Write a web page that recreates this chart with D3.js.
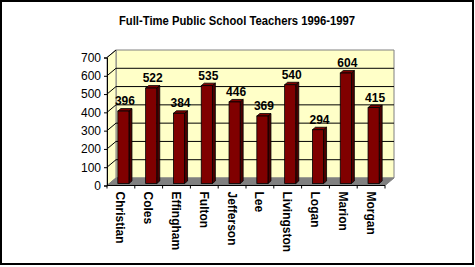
<!DOCTYPE html>
<html>
<head>
<meta charset="utf-8">
<script src="https://cdn.jsdelivr.net/npm/d3@7"></script>
<style>
  body { margin: 0; background: #fff; }
  svg { display: block; }
</style>
</head>
<body>
<div class="visualization"></div>
<script>
const counties = ['Christian', 'Coles', 'Effingham', 'Fulton', 'Jefferson', 'Lee', 'Livingston', 'Logan', 'Marion', 'Morgan'];
const teachers = [396, 522, 384, 535, 446, 369, 540, 294, 604, 415];
const yTicks = [0, 100, 200, 300, 400, 500, 600, 700];
const title = 'Full-Time Public School Teachers 1996-1997';

const width = 475, height = 267;
const font = 'Liberation Sans, Arial, Helvetica, sans-serif';
// 3d depth of the plot box
const depth = {dx: 9, dy: -7.5};
// bar offset from front plane and its own depth
const barOff = {dx: 2.5, dy: -2};
const barDepth = {dx: 3, dy: -2.5};

const svg = d3.select('.visualization').append('svg')
    .attr('width', width)
    .attr('height', height);

svg.append('rect')
    .attr('x', 1).attr('y', 1)
    .attr('width', width - 3).attr('height', height - 4)
    .attr('fill', '#fff')
    .attr('stroke', '#000')
    .attr('stroke-width', 2);

svg.append('text')
    .attr('x', 237).attr('y', 25)
    .attr('text-anchor', 'middle')
    .attr('textLength', 236)
    .attr('lengthAdjust', 'spacingAndGlyphs')
    .style('font-family', font)
    .style('font-weight', 'bold')
    .style('font-size', '12.5px')
    .text(title);

const x = d3.scaleBand().domain(counties).range([107, 385]);
const y = d3.scaleLinear().domain([0, 700]).range([185.5, 57.5]);

const x0 = x.range()[0], x1 = x.range()[1];
const yTop = y(700), yBot = y(0);

const pts = p => p.map(d => d.join(',')).join(' ');

// back wall
svg.append('polygon')
    .attr('points', pts([[x0 + depth.dx, yTop + depth.dy], [x1 + depth.dx, yTop + depth.dy],
        [x1 + depth.dx, yBot + depth.dy], [x0 + depth.dx, yBot + depth.dy]]))
    .attr('fill', '#ffffc8')
    .attr('stroke', '#808080');
// side wall
svg.append('polygon')
    .attr('points', pts([[x0, yTop], [x0 + depth.dx, yTop + depth.dy],
        [x0 + depth.dx, yBot + depth.dy], [x0, yBot]]))
    .attr('fill', '#ffffc8')
    .attr('stroke', '#808080');
// floor
svg.append('polygon')
    .attr('points', pts([[x0, yBot], [x0 + depth.dx, yBot + depth.dy],
        [x1 + depth.dx, yBot + depth.dy], [x1, yBot]]))
    .attr('fill', '#808080')
    .attr('stroke', '#808080');

// gridlines on back and side walls
const grid = svg.append('g').attr('class', 'grid');
yTicks.filter(v => v > 0 && v < 700).forEach(v => {
    grid.append('line')
        .attr('x1', x0 + depth.dx).attr('x2', x1 + depth.dx)
        .attr('y1', y(v) + depth.dy).attr('y2', y(v) + depth.dy)
        .attr('stroke', '#000');
});
yTicks.filter(v => v > 0).forEach(v => {
    grid.append('line')
        .attr('x1', x0).attr('x2', x0 + depth.dx)
        .attr('y1', y(v)).attr('y2', y(v) + depth.dy)
        .attr('stroke', '#000');
});

// bars
const bw = x.bandwidth() * 0.4;
const bars = svg.append('g').attr('class', 'bars');
counties.forEach((c, i) => {
    const v = teachers[i];
    const bx = x(c) + (x.bandwidth() - bw) / 2 + barOff.dx;
    const by0 = y(0) + barOff.dy;
    const by1 = y(v) + barOff.dy;
    const g = bars.append('g');
    // side face
    g.append('polygon')
        .attr('points', pts([[bx + bw, by1], [bx + bw + barDepth.dx, by1 + barDepth.dy],
            [bx + bw + barDepth.dx, by0 + barDepth.dy], [bx + bw, by0]]))
        .attr('fill', '#4a0000').attr('stroke', '#000').attr('stroke-width', 0.8);
    // top face
    g.append('polygon')
        .attr('points', pts([[bx, by1], [bx + barDepth.dx, by1 + barDepth.dy],
            [bx + bw + barDepth.dx, by1 + barDepth.dy], [bx + bw, by1]]))
        .attr('fill', '#800000').attr('stroke', '#000').attr('stroke-width', 0.8);
    // front face
    g.append('rect')
        .attr('x', bx).attr('y', by1)
        .attr('width', bw).attr('height', by0 - by1)
        .attr('fill', '#800000').attr('stroke', '#000').attr('stroke-width', 0.8);
    // value label
    g.append('text')
        .attr('x', bx + (bw + barDepth.dx) / 2)
        .attr('y', by1 + barDepth.dy - 3.5)
        .attr('text-anchor', 'middle')
        .style('font-family', font)
        .style('font-weight', 'bold')
        .style('font-size', '12px')
        .text(v);
});

// y axis
const yAxis = svg.append('g')
    .attr('transform', `translate(${x0},0)`)
    .call(d3.axisLeft(y).tickValues(yTicks).tickSize(3).tickPadding(3).tickFormat(d3.format('d')));
yAxis.select('.domain').attr('stroke', '#000');
yAxis.selectAll('.tick line').attr('stroke', '#000');
yAxis.selectAll('text')
    .style('font-family', font)
    .style('font-size', '12px')
    .attr('fill', '#000');

// x axis
const xAxis = svg.append('g').attr('class', 'x-axis');
xAxis.append('line')
    .attr('x1', x0).attr('x2', x1)
    .attr('y1', yBot).attr('y2', yBot)
    .attr('stroke', '#000');
const edges = counties.map(c => x(c)).concat([x1]);
edges.forEach(e => {
    xAxis.append('line')
        .attr('x1', e).attr('x2', e)
        .attr('y1', yBot).attr('y2', yBot + 3)
        .attr('stroke', '#000');
});
counties.forEach(c => {
    const cx = x(c) + x.bandwidth() / 2 - 4.5;
    xAxis.append('text')
        .attr('transform', `translate(${cx},${yBot + 6}) rotate(90)`)
        .attr('text-anchor', 'start')
        .style('font-family', font)
        .style('font-weight', 'bold')
        .style('font-size', '12px')
        .text(c);
});
</script>
</body>
</html>
